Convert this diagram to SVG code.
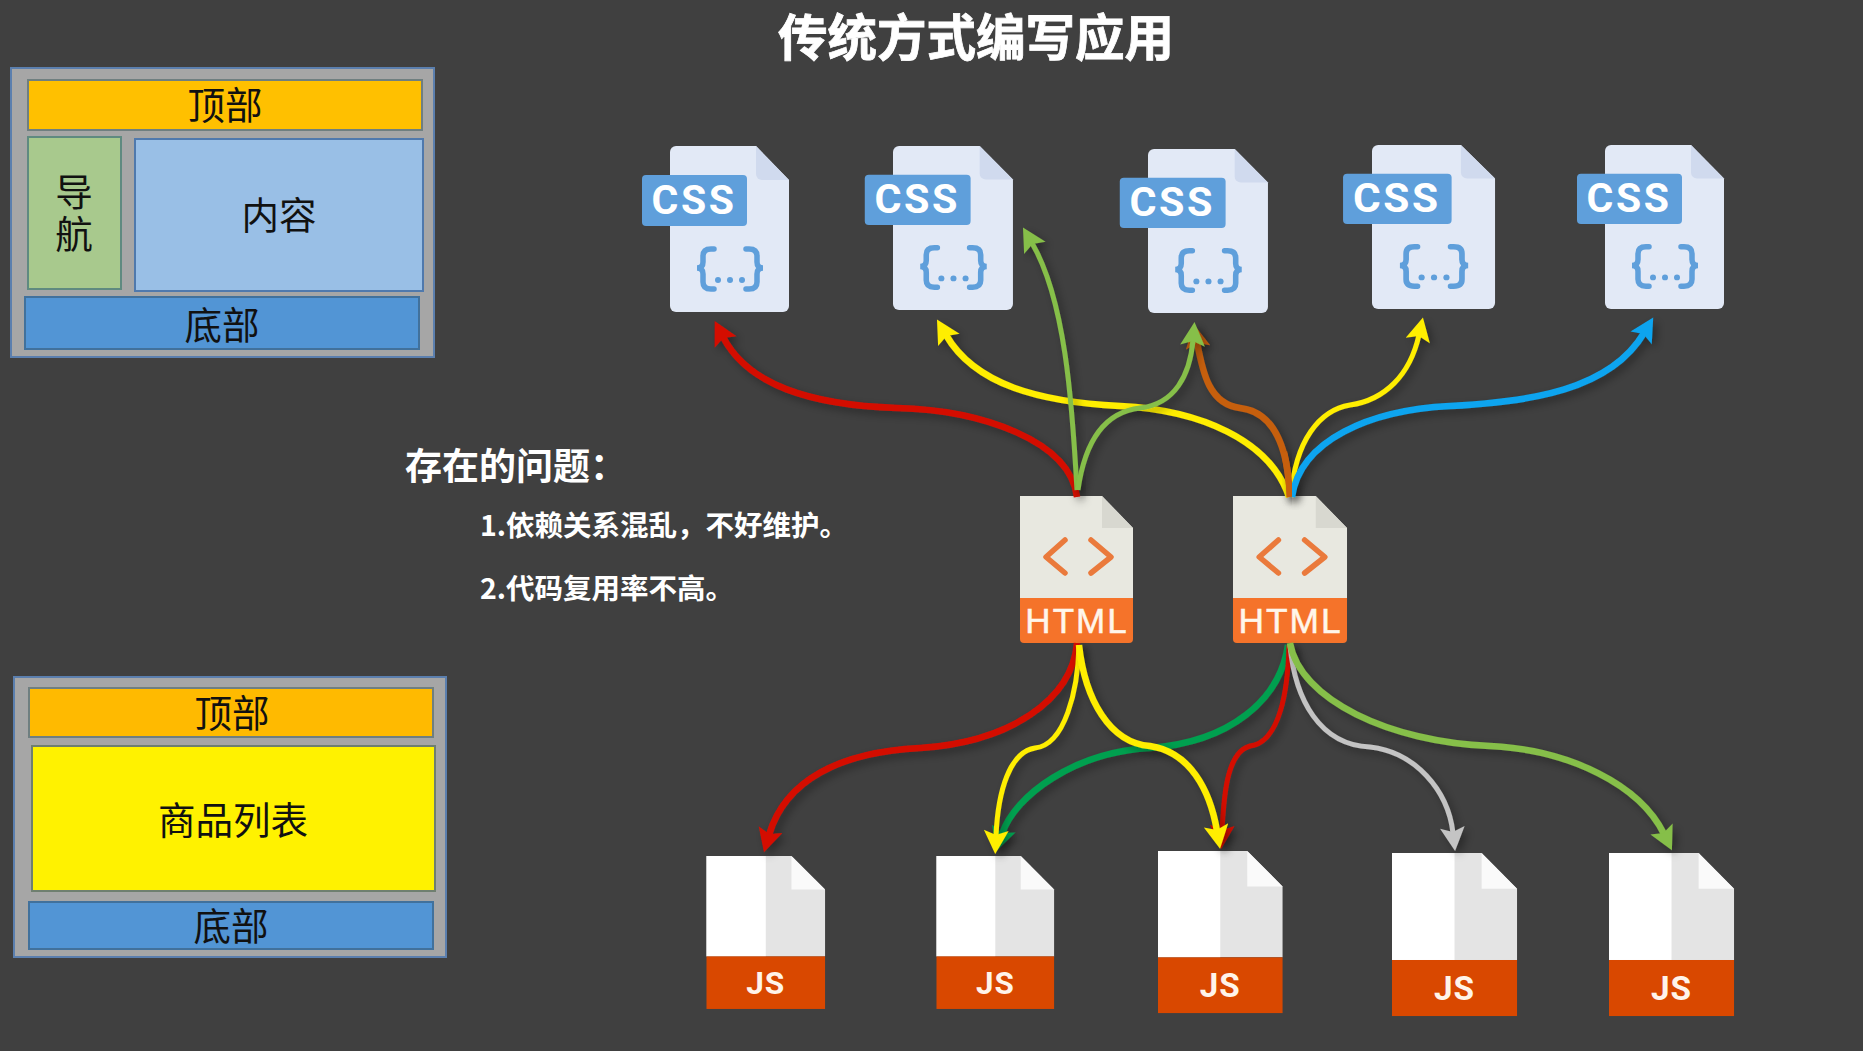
<svg xmlns="http://www.w3.org/2000/svg" width="1863" height="1051" viewBox="0 0 1863 1051">
<style>
.cjk{font-family:"Noto Sans CJK SC","Liberation Sans",sans-serif}
.box{stroke-width:2}
.lbl{font-size:37.5px;fill:#111;text-anchor:middle}
.head{fill:#fff;font-weight:700}
.c{fill:none;stroke-width:6.5;filter:url(#sh)}
.thin{stroke-width:5}
.cssT{font-family:Roboto,"Liberation Sans",sans-serif;font-weight:700;font-size:41px;fill:#fff;text-anchor:middle;letter-spacing:2.5px}
.htmlT{font-family:"Liberation Sans",sans-serif;font-size:35px;fill:#fff6ea;stroke:#fff6ea;stroke-width:.5;text-anchor:middle;letter-spacing:2px}
.jsT{font-family:Roboto,"Liberation Sans",sans-serif;font-weight:700;font-size:32px;fill:#fff4ea;text-anchor:middle;letter-spacing:1px}
.br{fill:none;stroke:#5f9fdb;stroke-width:5.5;stroke-linecap:round}
.ch{fill:none;stroke:#ea7a3c;stroke-width:5.5;stroke-linecap:round;stroke-linejoin:round}
</style>
<defs>
<filter id="sh" x="-20%" y="-20%" width="140%" height="140%"><feDropShadow dx="4" dy="4" stdDeviation="4" flood-color="#000" flood-opacity=".35"/></filter>
<marker id="mRed" markerUnits="userSpaceOnUse" markerWidth="27" markerHeight="25" refX="7" refY="11" viewBox="0 0 24 22" orient="auto"><path d="M2,0 L23,11 L2,22 L6,11Z" fill="#d41000"/></marker>
<marker id="mYel" markerUnits="userSpaceOnUse" markerWidth="27" markerHeight="25" refX="7" refY="11" viewBox="0 0 24 22" orient="auto"><path d="M2,0 L23,11 L2,22 L6,11Z" fill="#ffee00"/></marker>
<marker id="mLG" markerUnits="userSpaceOnUse" markerWidth="27" markerHeight="25" refX="7" refY="11" viewBox="0 0 24 22" orient="auto"><path d="M2,0 L23,11 L2,22 L6,11Z" fill="#86bf48"/></marker>
<marker id="mDG" markerUnits="userSpaceOnUse" markerWidth="27" markerHeight="25" refX="7" refY="11" viewBox="0 0 24 22" orient="auto"><path d="M2,0 L23,11 L2,22 L6,11Z" fill="#00a050"/></marker>
<marker id="mOr" markerUnits="userSpaceOnUse" markerWidth="27" markerHeight="25" refX="7" refY="11" viewBox="0 0 24 22" orient="auto"><path d="M2,0 L23,11 L2,22 L6,11Z" fill="#c65f10"/></marker>
<marker id="mBl" markerUnits="userSpaceOnUse" markerWidth="27" markerHeight="25" refX="7" refY="11" viewBox="0 0 24 22" orient="auto"><path d="M2,0 L23,11 L2,22 L6,11Z" fill="#0aa4ef"/></marker>
<marker id="mGr" markerUnits="userSpaceOnUse" markerWidth="27" markerHeight="25" refX="7" refY="11" viewBox="0 0 24 22" orient="auto"><path d="M2,0 L23,11 L2,22 L6,11Z" fill="#c4c4c4"/></marker>
<g id="cssIcon">
<path d="M6,0 H86 L119,34 V160 a6,6 0 0 1 -6,6 H6 a6,6 0 0 1 -6,-6 V6 a6,6 0 0 1 6,-6z" fill="#e2e9f6"/>
<path d="M86,0 L119,34 H92 a6,6 0 0 1 -6,-6z" fill="#d0daee"/>
<rect x="-28" y="29" width="105" height="51" rx="4" fill="#5f9fdb"/>
<path class="br" d="M44,103 H41 Q33,103 33,110 V116 Q33,122 27,122 Q33,122 33,128 V136 Q33,143 41,143 H44"/>
<path class="br" d="M76,103 H79 Q87,103 87,110 V116 Q87,122 93,122 Q87,122 87,128 V136 Q87,143 79,143 H76"/>
<circle cx="48" cy="134" r="3" fill="#5f9fdb"/><circle cx="60" cy="134" r="3" fill="#5f9fdb"/><circle cx="72" cy="134" r="3" fill="#5f9fdb"/>
</g>
<g id="htmlIcon">
<path d="M0,0 H82 L113,32 V102 H0Z" fill="#e8e8e0"/>
<path d="M82,0 L113,32 H82Z" fill="#d8d8d0"/>
<path d="M0,102 H113 V143 a4,4 0 0 1 -4,4 H4 a4,4 0 0 1 -4,-4Z" fill="#f5732a"/>
<path class="ch" d="M45,44 L26,61 L45,77"/>
<path class="ch" d="M71,44 L91,61 L71,77"/>
</g>
<g id="jsIcon">
<path d="M0,0 H86 L120,35 V105 H0Z" fill="#e4e4e4"/>
<rect x="0" y="0" width="60" height="105" fill="#fff"/>
<path d="M86,0 L120,35 H86Z" fill="#fafafa"/>
<rect x="0" y="105" width="120" height="55" fill="#d94800"/>
</g>
</defs>
<rect width="1863" height="1051" fill="#404040"/>
<g id="title"><text class="cjk head" x="976" y="56" font-size="49.5" text-anchor="middle" stroke="#fff" stroke-width=".8">传统方式编写应用</text></g>
<g id="layout1">
<rect class="box" x="11" y="68" width="423" height="289" fill="#a6a6a6" stroke="#5b7fae"/>
<g id="l1-top"><rect class="box" x="28" y="80" width="394" height="50" fill="#ffc000" stroke="#6f7f80"/><text class="cjk lbl" x="225" y="119">顶部</text></g>
<g id="l1-nav"><rect class="box" x="28" y="137" width="93" height="152" fill="#a8c98d" stroke="#5f8a80"/><text class="cjk lbl" x="74"><tspan x="74" y="206">导</tspan><tspan x="74" y="248">航</tspan></text></g>
<g id="l1-content"><rect class="box" x="135" y="139" width="288" height="152" fill="#99bfe6" stroke="#4f79ad"/><text class="cjk lbl" x="279" y="229">内容</text></g>
<g id="l1-bottom"><rect class="box" x="25" y="297" width="394" height="52" fill="#5295d5" stroke="#41719c"/><text class="cjk lbl" x="222" y="339">底部</text></g>
</g>
<g id="layout2">
<rect class="box" x="14" y="677" width="432" height="280" fill="#a6a6a6" stroke="#5b7fae"/>
<g id="l2-top"><rect class="box" x="29" y="688" width="404" height="49" fill="#ffba00" stroke="#6f7f80"/><text class="cjk lbl" x="232" y="727">顶部</text></g>
<g id="l2-list"><rect class="box" x="32" y="746" width="403" height="145" fill="#fff200" stroke="#6f7f70"/><text class="cjk lbl" x="233" y="834">商品列表</text></g>
<g id="l2-bottom"><rect class="box" x="29" y="902" width="404" height="47" fill="#5295d5" stroke="#41719c"/><text class="cjk lbl" x="231" y="940">底部</text></g>
</g>
<g id="problems">
<text class="cjk head" x="405" y="480" font-size="37">存在的问题：</text>
<text class="cjk head" x="480" y="536" font-size="28.5">1.依赖关系混乱，不好维护。</text>
<text class="cjk head" x="480" y="599" font-size="28.5">2.代码复用率不高。</text>
</g>
<g id="css1" transform="translate(670,146)"><use href="#cssIcon"/><text class="cssT" x="24" y="68">CSS</text></g>
<g id="css2" transform="translate(893,146) scale(1.008,.988)"><use href="#cssIcon"/><text class="cssT" x="24" y="68">CSS</text></g>
<g id="css3" transform="translate(1148,149) scale(1.008,.988)"><use href="#cssIcon"/><text class="cssT" x="24" y="68">CSS</text></g>
<g id="css4" transform="translate(1372,145) scale(1.034,.988)"><use href="#cssIcon"/><text class="cssT" x="24" y="68">CSS</text></g>
<g id="css5" transform="translate(1605,145) scale(1,.988)"><use href="#cssIcon"/><text class="cssT" x="24" y="68">CSS</text></g>
<g id="html1" transform="translate(1020,496)"><use href="#htmlIcon"/><text class="htmlT" x="57" y="137">HTML</text></g>
<g id="html2" transform="translate(1233,496) scale(1.009,1)"><use href="#htmlIcon"/><text class="htmlT" x="57" y="137">HTML</text></g>
<g id="js1" transform="translate(706.5,856) scale(.988,.956)"><use href="#jsIcon"/><text class="jsT" x="60" y="144">JS</text></g>
<g id="js2" transform="translate(936.5,856) scale(.98,.956)"><use href="#jsIcon"/><text class="jsT" x="60" y="144">JS</text></g>
<g id="js3" transform="translate(1158,851) scale(1.038,1.013)"><use href="#jsIcon"/><text class="jsT" x="60" y="144">JS</text></g>
<g id="js4" transform="translate(1392,853) scale(1.042,1.019)"><use href="#jsIcon"/><text class="jsT" x="60" y="144">JS</text></g>
<g id="js5" transform="translate(1609,853) scale(1.042,1.019)"><use href="#jsIcon"/><text class="jsT" x="60" y="144">JS</text></g>
<g id="connectors">
<path class="c" stroke="#d41000" marker-end="url(#mRed)" d="M1077,497 C1070,440 980,410 897,408 C810,405 748,385 723,337"/>
<path class="c" stroke="#ffee00" marker-end="url(#mYel)" d="M1289,497 C1270,440 1200,410 1120,406 C1040,402 975,385 946,335"/>
<path class="c thin" stroke="#86bf48" marker-end="url(#mLG)" d="M1077,490 C1072,400 1065,300 1032,243"/>
<path class="c" stroke="#c65f10" marker-end="url(#mOr)" d="M1290,497 C1288,450 1275,412 1240,408 C1210,404 1203,375 1197,342"/>
<path class="c thin" stroke="#86bf48" marker-end="url(#mLG)" d="M1078,490 C1085,440 1105,412 1140,408 C1175,404 1190,375 1193,340"/>
<path class="c thin" stroke="#ffee00" marker-end="url(#mYel)" d="M1291,497 C1295,440 1320,410 1350,405 C1385,400 1410,375 1419,335"/>
<path class="c" stroke="#0aa4ef" marker-end="url(#mBl)" d="M1292,497 C1300,440 1370,410 1450,406 C1530,402 1610,390 1644,333"/>
<path class="c" stroke="#c65f10" d="M1290,497 C1289,480 1287,465 1284,452"/>
<path class="c" stroke="#d41000" marker-end="url(#mRed)" d="M1077,643 C1072,700 1010,742 920,748 C840,752 785,780 769,835"/>
<path class="c" stroke="#00a050" marker-end="url(#mDG)" d="M1288,645 C1280,700 1230,742 1150,748 C1075,752 1015,795 1002,834"/>
<path class="c thin" stroke="#d41000" marker-end="url(#mRed)" d="M1289,645 C1288,690 1280,742 1250,746 C1228,752 1224,790 1222,831"/>
<path class="c thin" stroke="#ffee00" marker-end="url(#mYel)" d="M1079,645 C1078,690 1065,745 1035,748 C1010,752 998,790 996,836"/>
<path class="c" stroke="#ffee00" marker-end="url(#mYel)" d="M1079,645 C1085,700 1110,743 1150,746 C1190,752 1210,790 1217,831"/>
<path class="c thin" stroke="#c4c4c4" marker-end="url(#mGr)" d="M1290,645 C1295,700 1320,745 1370,747 C1415,752 1448,790 1453,833"/>
<path class="c" stroke="#86bf48" marker-end="url(#mLG)" d="M1290,643 C1300,700 1390,742 1490,746 C1570,750 1640,785 1664,834"/>
</g>
</svg>
